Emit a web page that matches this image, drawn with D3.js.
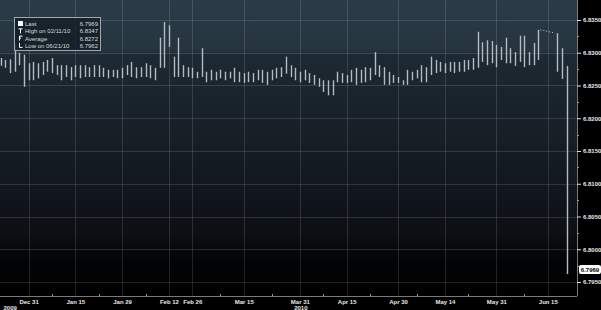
<!DOCTYPE html>
<html lang="en">
<head>
  <meta charset="UTF-8">
  <title>USD/CNY bar chart</title>
  <script src="https://d3js.org/d3.v7.min.js"></script>
  <style>
    body {
      margin: 0;
      overflow: hidden;
      background: black;
    }
    text {
      font-family: "Liberation Sans", Arial, sans-serif;
    }
  </style>
</head>
<body>
  <script>
    const width = 601;
    const height = 310;

    // trading days shown on the axis (Jun 14-16 holiday: no data)
    const dates = [
      "2009-12-23", "2009-12-24", "2009-12-25", "2009-12-28", "2009-12-29", "2009-12-30", "2009-12-31",
      "2010-01-04", "2010-01-05", "2010-01-06", "2010-01-07", "2010-01-08",
      "2010-01-11", "2010-01-12", "2010-01-13", "2010-01-14", "2010-01-15",
      "2010-01-18", "2010-01-19", "2010-01-20", "2010-01-21", "2010-01-22",
      "2010-01-25", "2010-01-26", "2010-01-27", "2010-01-28", "2010-01-29",
      "2010-02-01", "2010-02-02", "2010-02-03", "2010-02-04", "2010-02-05",
      "2010-02-08", "2010-02-09", "2010-02-10", "2010-02-11", "2010-02-12",
      "2010-02-22", "2010-02-23", "2010-02-24", "2010-02-25", "2010-02-26",
      "2010-03-01", "2010-03-02", "2010-03-03", "2010-03-04", "2010-03-05",
      "2010-03-08", "2010-03-09", "2010-03-10", "2010-03-11", "2010-03-12",
      "2010-03-15", "2010-03-16", "2010-03-17", "2010-03-18", "2010-03-19",
      "2010-03-22", "2010-03-23", "2010-03-24", "2010-03-25", "2010-03-26",
      "2010-03-29", "2010-03-30", "2010-03-31", "2010-04-01", "2010-04-02",
      "2010-04-06", "2010-04-07", "2010-04-08", "2010-04-09",
      "2010-04-12", "2010-04-13", "2010-04-14", "2010-04-15", "2010-04-16",
      "2010-04-19", "2010-04-20", "2010-04-21", "2010-04-22", "2010-04-23",
      "2010-04-26", "2010-04-27", "2010-04-28", "2010-04-29", "2010-04-30",
      "2010-05-03", "2010-05-04", "2010-05-05", "2010-05-06", "2010-05-07",
      "2010-05-10", "2010-05-11", "2010-05-12", "2010-05-13", "2010-05-14",
      "2010-05-17", "2010-05-18", "2010-05-19", "2010-05-20", "2010-05-21",
      "2010-05-24", "2010-05-25", "2010-05-26", "2010-05-27", "2010-05-28",
      "2010-05-31", "2010-06-01", "2010-06-02", "2010-06-03", "2010-06-04",
      "2010-06-07", "2010-06-08", "2010-06-09", "2010-06-10", "2010-06-11",
      "2010-06-14", "2010-06-15", "2010-06-16", "2010-06-17", "2010-06-18",
      "2010-06-21"
    ];

    const highs = [
      6.8292, 6.8289, 6.8290, 6.8313, 6.8300, 6.8297, 6.8284,
      6.8286, 6.8284, 6.8286, 6.8289, 6.8292,
      6.8281, 6.8281, 6.8281, 6.8278, 6.8281,
      6.8281, 6.8281, 6.8278, 6.8281, 6.8281,
      6.8277, 6.8274, 6.8274, 6.8274, 6.8277,
      6.8281, 6.8286, 6.8278, 6.8278, 6.8284,
      6.8281, 6.8277, 6.8323, 6.8347, 6.8342,
      6.8294, 6.8323, 6.8281, 6.8278, 6.8277,
      6.8271, 6.8307, 6.8271, 6.8274, 6.8271,
      6.8274, 6.8271, 6.8271, 6.8277, 6.8271,
      6.8269, 6.8271, 6.8269, 6.8274, 6.8274,
      6.8271, 6.8274, 6.8277, 6.8278, 6.8294,
      6.8281, 6.8277, 6.8271, 6.8274, 6.8269,
      6.8266, 6.8261, 6.8258, 6.8258,
      6.8258, 6.8271, 6.8269, 6.8266, 6.8274,
      6.8277, 6.8274, 6.8278, 6.8277, 6.8301,
      6.8281, 6.8278, 6.8271, 6.8266, 6.8263,
      6.8258, 6.8274, 6.8271, 6.8274, 6.8281,
      6.8278, 6.8294, 6.8289, 6.8286, 6.8284,
      6.8286, 6.8286, 6.8286, 6.8289, 6.8289,
      6.8292, 6.8332, 6.8316, 6.8319, 6.8318,
      6.8312, 6.8309, 6.8323, 6.8307, 6.8301,
      6.8326, 6.8326, 6.8301, 6.8315, 6.8335,
      null, null, null, 6.8330, 6.8307,
      6.8280
    ];

    const lows = [
      6.8280, 6.8277, 6.8269, 6.8271, 6.8281, 6.8248, 6.8258,
      6.8258, 6.8261, 6.8266, 6.8271, 6.8269,
      6.8266, 6.8258, 6.8263, 6.8258, 6.8263,
      6.8261, 6.8263, 6.8263, 6.8263, 6.8263,
      6.8263, 6.8261, 6.8263, 6.8261, 6.8261,
      6.8266, 6.8263, 6.8261, 6.8263, 6.8263,
      6.8261, 6.8258, 6.8277, 6.8277, 6.8309,
      6.8263, 6.8263, 6.8263, 6.8263, 6.8261,
      6.8261, 6.8263, 6.8255, 6.8258, 6.8258,
      6.8261, 6.8258, 6.8261, 6.8255, 6.8255,
      6.8254, 6.8255, 6.8255, 6.8258, 6.8254,
      6.8251, 6.8258, 6.8261, 6.8263, 6.8268,
      6.8263, 6.8258, 6.8255, 6.8258, 6.8254,
      6.8251, 6.8248, 6.8240, 6.8235,
      6.8235, 6.8255, 6.8254, 6.8254, 6.8255,
      6.8251, 6.8254, 6.8255, 6.8258, 6.8266,
      6.8263, 6.8251, 6.8251, 6.8254, 6.8254,
      6.8251, 6.8251, 6.8258, 6.8261, 6.8255,
      6.8255, 6.8266, 6.8269, 6.8271, 6.8269,
      6.8271, 6.8269, 6.8271, 6.8271, 6.8274,
      6.8274, 6.8277, 6.8286, 6.8281, 6.8284,
      6.8278, 6.8289, 6.8284, 6.8284, 6.8280,
      6.8286, 6.8278, 6.8281, 6.8281, 6.8289,
      null, null, null, 6.8271, 6.8260,
      6.7962
    ];

    const lastValue = 6.7969;

    const tickDates = ["2009-12-31", "2010-01-15", "2010-01-29", "2010-02-12", "2010-02-26", "2010-03-15",
      "2010-03-31", "2010-04-15", "2010-04-30", "2010-05-14", "2010-05-31", "2010-06-15"];
    const tickLabels = ["Dec 31", "Jan 15", "Jan 29", "Feb 12", "Feb 26", "Mar 15",
      "Mar 31", "Apr 15", "Apr 30", "May 14", "May 31", "Jun 15"];
    const minorTickDates = ["2010-01-08", "2010-01-22", "2010-02-05", "2010-03-08", "2010-03-23",
      "2010-04-08", "2010-04-22", "2010-05-06", "2010-05-21", "2010-06-08"];
    const yearLabels = [{ date: "2009-12-23", text: "2009", anchor: "start" }, { date: "2010-03-31", text: "2010", anchor: "middle" }];

    const yTicks = [6.7950, 6.8000, 6.8050, 6.8100, 6.8150, 6.8200, 6.8250, 6.8300, 6.8350];
    const yMinorTicks = [6.7975, 6.8025, 6.8075, 6.8125, 6.8175, 6.8225, 6.8275, 6.8325];

    const legendRows = [
      { icon: "last", label: "Last", value: "6.7969" },
      { icon: "high", label: "High on 02/11/10", value: "6.8347" },
      { icon: "avg", label: "Average", value: "6.8272" },
      { icon: "low", label: "Low on 06/21/10", value: "6.7962" }
    ];

    const plotRight = 577;
    const plotBottom = 296;

    const svg = d3.select("body")
      .append("svg")
      .attr("width", width)
      .attr("height", height)
      .style("display", "block")
      .style("background", "black");

    const defs = svg.append("defs");
    const grad = defs.append("linearGradient")
      .attr("id", "bg")
      .attr("x1", 0).attr("y1", 0).attr("x2", 0).attr("y2", 1);
    [
      [0, "#2b3c48"], [0.17, "#25343f"], [0.185, "#1d2933"], [0.45, "#171f27"],
      [0.68, "#10151b"], [0.8, "#0b0e12"], [0.88, "#030405"], [1, "#000000"]
    ].forEach(s => grad.append("stop").attr("offset", s[0]).attr("stop-color", s[1]));

    svg.append("rect")
      .attr("x", 0).attr("y", 0)
      .attr("width", plotRight).attr("height", plotBottom)
      .attr("fill", "url(#bg)");

    const x = d3.scalePoint()
      .domain(dates)
      .range([0.5, 566.5]);

    const y = d3.scaleLinear()
      .domain([6.7950, 6.8350])
      .range([282, 20]);

    // grid
    svg.append("g")
      .selectAll("line")
      .data(yTicks)
      .join("line")
      .attr("x1", 0).attr("x2", plotRight)
      .attr("y1", d => Math.round(y(d)) + 0.5)
      .attr("y2", d => Math.round(y(d)) + 0.5)
      .attr("stroke", "rgba(255,255,255,0.13)")
      .attr("stroke-width", 1);

    svg.append("g")
      .selectAll("line")
      .data(tickDates)
      .join("line")
      .attr("x1", d => Math.round(x(d)) + 0.5)
      .attr("x2", d => Math.round(x(d)) + 0.5)
      .attr("y1", 0).attr("y2", plotBottom)
      .attr("stroke", "rgba(255,255,255,0.13)")
      .attr("stroke-width", 1);

    // high-low bars
    const bars = dates.map((d, i) => ({ date: d, high: highs[i], low: lows[i] }))
      .filter(d => d.high != null);

    svg.append("g")
      .selectAll("line")
      .data(bars)
      .join("line")
      .attr("x1", d => Math.round(x(d.date)) + 0.5)
      .attr("x2", d => Math.round(x(d.date)) + 0.5)
      .attr("y1", d => y(d.high))
      .attr("y2", d => y(d.low))
      .attr("stroke", "#b4bbc1")
      .attr("stroke-width", 1.4);

    // dotted link across the holiday gap
    svg.append("line")
      .attr("x1", x("2010-06-11") + 2)
      .attr("x2", x("2010-06-17") - 2)
      .attr("y1", y(highs[dates.indexOf("2010-06-11")]))
      .attr("y2", y(highs[dates.indexOf("2010-06-17")]))
      .attr("stroke", "#c8ced3")
      .attr("stroke-width", 1)
      .attr("stroke-dasharray", "1,2");

    // axes
    const xAxis = d3.axisBottom(x)
      .tickValues(tickDates)
      .tickFormat((d, i) => tickLabels[i])
      .tickSize(0)
      .tickPadding(5);

    const gx = svg.append("g")
      .attr("transform", `translate(0,${plotBottom})`)
      .call(xAxis);
    gx.select(".domain").attr("stroke", "#7a7a7a").attr("d", `M0,0.5H${plotRight}`);
    gx.selectAll("text")
      .attr("fill", "#e8e8e8")
      .attr("font-size", 6)
      .attr("font-weight", "bold")
      .attr("dy", "0.55em");

    gx.selectAll(".minor")
      .data(minorTickDates)
      .join("line")
      .attr("class", "minor")
      .attr("x1", d => Math.round(x(d)) + 0.5)
      .attr("x2", d => Math.round(x(d)) + 0.5)
      .attr("y1", -2).attr("y2", 0)
      .attr("stroke", "#9a9a9a");

    svg.append("g")
      .selectAll("text")
      .data(yearLabels)
      .join("text")
      .attr("x", d => d.anchor === "start" ? x(d.date) + 3 : x(d.date) + 1)
      .attr("y", 310)
      .attr("text-anchor", d => d.anchor)
      .attr("fill", "#e8e8e8")
      .attr("font-size", 6)
      .attr("font-weight", "bold")
      .text(d => d.text);

    const yAxis = d3.axisRight(y)
      .tickValues(yTicks)
      .tickFormat(d3.format(".4f"))
      .tickSize(4)
      .tickPadding(2);

    const gy = svg.append("g")
      .attr("transform", `translate(${plotRight},0)`)
      .call(yAxis);
    gy.select(".domain").attr("stroke", "#7a7a7a").attr("d", `M0.5,0V${plotBottom}`);
    gy.selectAll(".tick line").attr("stroke", "#e0e0e0");
    gy.selectAll("text")
      .attr("fill", "#e8e8e8")
      .attr("font-size", 6)
      .attr("font-weight", "bold");

    gy.selectAll(".minor")
      .data(yMinorTicks)
      .join("line")
      .attr("class", "minor")
      .attr("x1", 0).attr("x2", 2)
      .attr("y1", d => Math.round(y(d)) + 0.5)
      .attr("y2", d => Math.round(y(d)) + 0.5)
      .attr("stroke", "#9a9a9a");

    // last price tag
    const lastTag = svg.append("g")
      .attr("transform", `translate(${plotRight + 2},${y(lastValue)})`);
    lastTag.append("rect")
      .attr("x", 0).attr("y", -4.5)
      .attr("width", 22).attr("height", 9)
      .attr("rx", 2)
      .attr("fill", "#ffffff");
    lastTag.append("text")
      .attr("x", 11).attr("y", 0)
      .attr("dy", "0.35em")
      .attr("text-anchor", "middle")
      .attr("fill", "#000")
      .attr("font-size", 6)
      .attr("font-weight", "bold")
      .text(d3.format(".4f")(lastValue));

    // legend
    const legend = svg.append("g").attr("transform", "translate(14,17)");
    legend.append("rect")
      .attr("x", 0.5).attr("y", 0.5)
      .attr("width", 86).attr("height", 33)
      .attr("fill", "rgba(20,30,38,0.85)")
      .attr("stroke", "#a0a8ae")
      .attr("stroke-width", 1);

    const rows = legend.selectAll(".row")
      .data(legendRows)
      .join("g")
      .attr("class", "row")
      .attr("transform", (d, i) => `translate(0,${7 + i * 7.3})`);

    rows.each(function (d) {
      const g = d3.select(this);
      const icon = g.append("g").attr("transform", "translate(4,-3)");
      if (d.icon === "last") {
        icon.append("rect").attr("x", 0).attr("y", 0).attr("width", 5).attr("height", 5).attr("fill", "#fff");
      } else if (d.icon === "high") {
        icon.append("path").attr("d", "M0.5,0.5H4.5M2.5,0.5V5").attr("stroke", "#fff").attr("fill", "none");
      } else if (d.icon === "avg") {
        icon.append("path").attr("d", "M4.5,0.5H1.5V5M1.5,2.5H3").attr("stroke", "#fff").attr("fill", "none");
      } else {
        icon.append("path").attr("d", "M1.5,0V4.5H4.5").attr("stroke", "#fff").attr("fill", "none");
      }
      g.append("text")
        .attr("x", 11).attr("y", 0)
        .attr("dy", "0.35em")
        .attr("fill", "#d6dadd")
        .attr("font-size", 6)
        .text(d.label);
      g.append("text")
        .attr("x", 84).attr("y", 0)
        .attr("dy", "0.35em")
        .attr("text-anchor", "end")
        .attr("fill", "#d6dadd")
        .attr("font-size", 6)
        .text(d.value);
    });
  </script>
</body>
</html>
